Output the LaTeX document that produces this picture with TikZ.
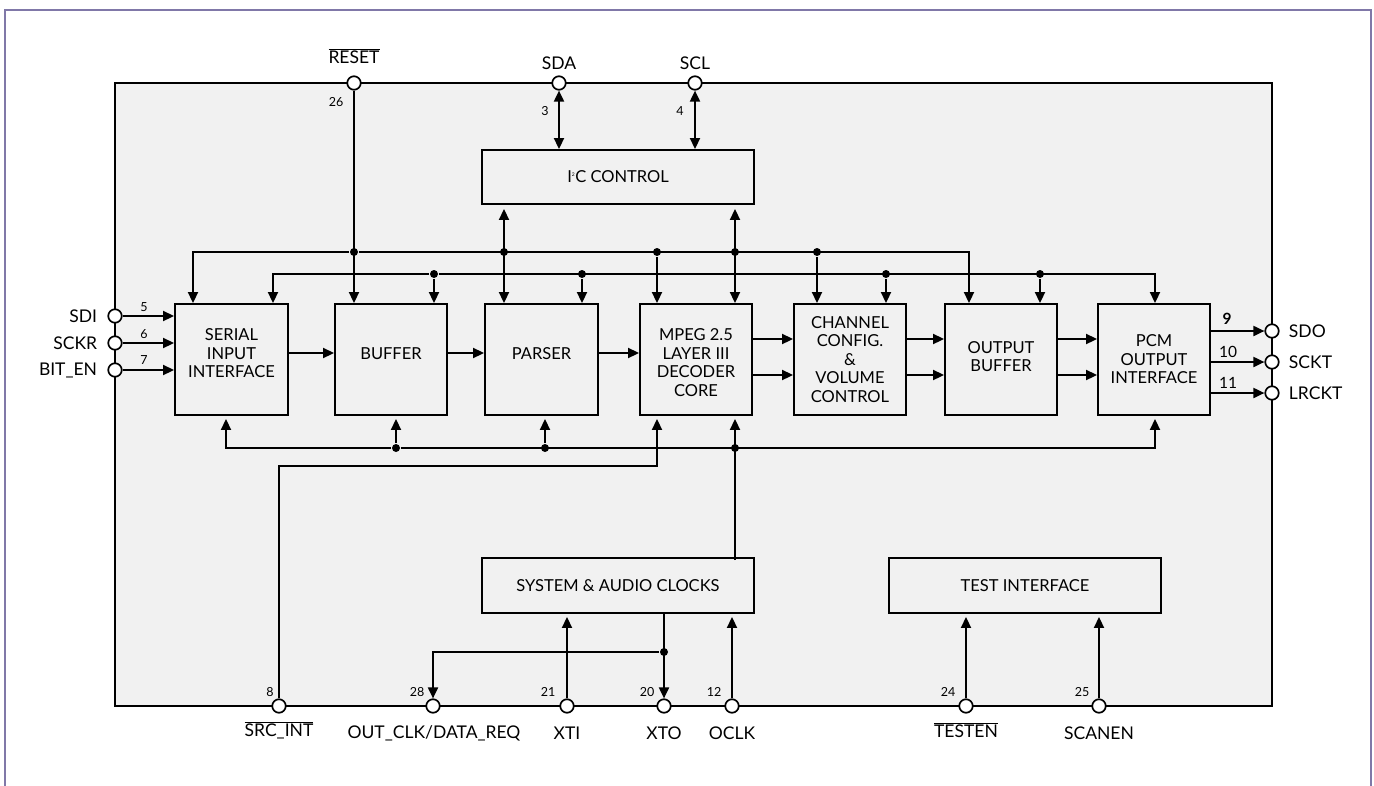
\documentclass[tikz,border=0pt]{standalone}
\usepackage{fontspec}
\setmainfont{Lato}
\usetikzlibrary{arrows.meta,calc}
\definecolor{framecol}{RGB}{128,120,168}
\definecolor{chipfill}{RGB}{241,241,241}
\begin{document}
\begin{tikzpicture}[x=1pt,y=-1pt,
  line width=1.9pt,
  blk/.style={draw, line width=1.9pt, inner sep=0pt},
  btext/.style={align=center, inner sep=0pt, font=\fontsize{16.5}{18.5}\selectfont},
  pinc/.style={circle, draw, fill=white, line width=1.7pt, minimum size=13.5pt, inner sep=0pt},
  jdot/.style={circle, fill, inner sep=0pt, minimum size=8pt},
  arr/.style={-{Triangle[length=11pt,width=10pt]}},
  darr/.style={{Triangle[length=11pt,width=10pt]}-{Triangle[length=11pt,width=10pt]}},
  plab/.style={font=\fontsize{17.5}{17.5}\selectfont, inner sep=0pt},
  pnum/.style={font=\fontsize{12.5}{12.5}\selectfont, inner sep=0pt},
  rnum/.style={font=\fontsize{15.5}{15.5}\selectfont, inner sep=0pt},
]
\useasboundingbox (0,0) rectangle (1374,785);
\draw[framecol, line width=2.4pt] (5,790) -- (5,10) -- (1371,10) -- (1371,790);
\draw[fill=chipfill] (115,83) rectangle (1272,706);

% blocks
\node[blk, minimum width=272pt, minimum height=54pt] (i2c) at (618,177) {};
\node[btext] at (i2c.center) {I\textsuperscript{\tiny 2}C CONTROL};
\node[blk, minimum width=113pt, minimum height=111pt] (sii) at (231.5,359.5) {};
\node[btext] at ($(sii.center)+(0,-6)$) {SERIAL\\INPUT\\INTERFACE};
\node[blk, minimum width=112pt, minimum height=111pt] (buf) at (391,359.5) {};
\node[btext] at ($(buf.center)+(0,-6)$) {BUFFER};
\node[blk, minimum width=113pt, minimum height=111pt] (par) at (541.5,359.5) {};
\node[btext] at ($(par.center)+(0,-6)$) {PARSER};
\node[blk, minimum width=112pt, minimum height=111pt] (mpeg) at (696,359.5) {};
\node[btext] at ($(mpeg.center)+(0,3)$) {MPEG 2.5\\LAYER III\\DECODER\\CORE};
\node[blk, minimum width=112pt, minimum height=111pt] (chan) at (850,359.5) {};
\node[btext] at (chan.center) {CHANNEL\\CONFIG.\\\&\\VOLUME\\CONTROL};
\node[blk, minimum width=112pt, minimum height=111pt] (ob) at (1001,359.5) {};
\node[btext] at ($(ob.center)+(0,-3)$) {OUTPUT\\BUFFER};
\node[blk, minimum width=112pt, minimum height=111pt] (pcm) at (1154,359.5) {};
\node[btext] at (pcm.center) {PCM\\OUTPUT\\INTERFACE};
\node[blk, minimum width=272pt, minimum height=55pt] (clk) at (618,585.5) {};
\node[btext] at (clk.center) {SYSTEM \& AUDIO CLOCKS};
\node[blk, minimum width=272pt, minimum height=55pt] (test) at (1025,585.5) {};
\node[btext] at (test.center) {TEST INTERFACE};

% pins
\node[pinc] (reset) at (354,83) {};
\node[pinc] (sda) at (559,83) {};
\node[pinc] (scl) at (695,83) {};
\node[pinc] (sdi) at (115,316) {};
\node[pinc] (sckr) at (115,343) {};
\node[pinc] (biten) at (115,370) {};
\node[pinc] (sdo) at (1272,331) {};
\node[pinc] (sckt) at (1272,362) {};
\node[pinc] (lrckt) at (1272,393) {};
\node[pinc] (srcint) at (279,706) {};
\node[pinc] (outclk) at (433,706) {};
\node[pinc] (xti) at (567,706) {};
\node[pinc] (xto) at (664,706) {};
\node[pinc] (oclk) at (732,706) {};
\node[pinc] (testen) at (966,706) {};
\node[pinc] (scanen) at (1099,706) {};

% pin labels
\node[plab] at (354,56) {$\overline{\mbox{RESET}}$};
\node[plab] at (559,63) {SDA};
\node[plab] at (695,63) {SCL};
\node[plab, anchor=east] at (98,316) {SDI};
\node[plab, anchor=east] at (98,343) {SCKR};
\node[plab, anchor=east] at (98,370) {BIT\_EN};
\node[plab, anchor=west] at (1288,331) {SDO};
\node[plab, anchor=west] at (1288,362) {SCKT};
\node[plab, anchor=west] at (1288,393) {LRCKT};
\node[plab] at (279,730) {$\overline{\mbox{SRC\_INT}}$};
\node[plab] at (434,733) {OUT\_CLK/DATA\_REQ};
\node[plab] at (567,733) {XTI};
\node[plab] at (664,733) {XTO};
\node[plab] at (732,733) {OCLK};
\node[plab] at (966,730) {$\overline{\mbox{TESTEN}}$};
\node[plab] at (1099,733) {SCANEN};

% pin numbers
\node[pnum] at (336,102) {26};
\node[pnum] at (545,111) {3};
\node[pnum] at (680,111) {4};
\node[pnum] at (144,307) {5};
\node[pnum] at (144,334) {6};
\node[pnum] at (144,360) {7};
\node[rnum, font=\fontsize{15.5}{15.5}\bfseries] at (1227,319) {9};
\node[rnum] at (1228,352) {10};
\node[rnum] at (1228,383) {11};
\node[pnum] at (270,692) {8};
\node[pnum] at (417,692) {28};
\node[pnum] at (548,692) {21};
\node[pnum] at (647,692) {20};
\node[pnum] at (714,692) {12};
\node[pnum] at (948,692) {24};
\node[pnum] at (1082,692) {25};

% junctions and bus ends
\node[jdot] (jr) at (354,252) {};
\node[jdot] (ji1) at (504,252) {};
\node[jdot] (jm1) at (657,252) {};
\node[jdot] (ji2) at (735,252) {};
\node[jdot] (jc1) at (817,252) {};
\node[jdot] (jb2) at (434,274) {};
\node[jdot] (jp2) at (582,274) {};
\node[jdot] (jc2) at (886,274) {};
\node[jdot] (jo2) at (1040,274) {};
\node[jdot] (jbb) at (396,448) {};
\node[jdot] (jpb) at (545,448) {};
\node[jdot] (jmb) at (735,448) {};
\node[jdot] (jx) at (664,652) {};
\coordinate (ub1) at (193,252);
\coordinate (ub2) at (969,252);
\coordinate (lb1) at (273,274);
\coordinate (lb2) at (1155,274);
\coordinate (bb1) at (226,448);
\coordinate (bb2) at (1155,448);
\coordinate (s2) at (657,466);
\coordinate (fy) at (0,353);
\coordinate (fa) at (0,339);
\coordinate (fb) at (0,375);

% top connections
\draw[darr] (sda) -- (i2c.north -| sda);
\draw[darr] (scl) -- (i2c.north -| scl);
\draw[arr] (reset) -- (buf.north -| reset);
\draw[darr, shorten <=4pt] (i2c.south -| ji1) -- (par.north -| ji1);
\draw[darr, shorten <=4pt] (i2c.south -| ji2) -- (mpeg.north -| ji2);
% upper bus
\draw[arr] (jr) -| (sii.north -| ub1);
\draw[arr] (jr) -| (ob.north -| ub2);
\draw[arr] (jm1) -- (mpeg.north -| jm1);
\draw[arr] (jc1) -- (chan.north -| jc1);
% lower bus
\draw[arr] (jb2) -| (sii.north -| lb1);
\draw[arr] (jb2) -| (pcm.north -| lb2);
\draw[arr] (jb2) -- (buf.north -| jb2);
\draw[arr] (jp2) -- (par.north -| jp2);
\draw[arr] (jc2) -- (chan.north -| jc2);
\draw[arr] (jo2) -- (ob.north -| jo2);
% bottom bus
\draw[arr, shorten >=3pt] (jbb) -| (sii.south -| bb1);
\draw[arr, shorten >=3pt] (jbb) -| (pcm.south -| bb2);
\draw[arr, shorten >=3pt] (jbb) -- (buf.south -| jbb);
\draw[arr, shorten >=3pt] (jpb) -- (par.south -| jpb);
\draw[arr, shorten >=3pt, shorten <=-3pt] (clk.north -| jmb) -- (mpeg.south -| jmb);
\draw[arr, shorten >=3pt] (srcint) |- (s2) -- (mpeg.south -| s2);

% data flow
\draw[arr] (sdi) -- (sii.west |- sdi);
\draw[arr] (sckr) -- (sii.west |- sckr);
\draw[arr] (biten) -- (sii.west |- biten);
\draw[arr] (sii.east |- fy) -- (buf.west |- fy);
\draw[arr] (buf.east |- fy) -- (par.west |- fy);
\draw[arr] (par.east |- fy) -- (mpeg.west |- fy);
\draw[arr] (mpeg.east |- fa) -- (chan.west |- fa);
\draw[arr] (mpeg.east |- fb) -- (chan.west |- fb);
\draw[arr] (chan.east |- fa) -- (ob.west |- fa);
\draw[arr] (chan.east |- fb) -- (ob.west |- fb);
\draw[arr] (ob.east |- fa) -- (pcm.west |- fa);
\draw[arr] (ob.east |- fb) -- (pcm.west |- fb);
\draw[arr] (pcm.east |- sdo) -- (sdo);
\draw[arr] (pcm.east |- sckt) -- (sckt);
\draw[arr] (pcm.east |- lrckt) -- (lrckt);

% clocks and test
\draw[arr, shorten >=3pt] (xti) -- (clk.south -| xti);
\draw[arr, shorten >=3pt] (oclk) -- (clk.south -| oclk);
\draw[arr] (clk.south -| xto) -- (xto);
\draw[arr] (jx) -| (outclk);
\draw[arr, shorten >=3pt] (testen) -- (test.south -| testen);
\draw[arr, shorten >=3pt] (scanen) -- (test.south -| scanen);
\end{tikzpicture}
\end{document}
